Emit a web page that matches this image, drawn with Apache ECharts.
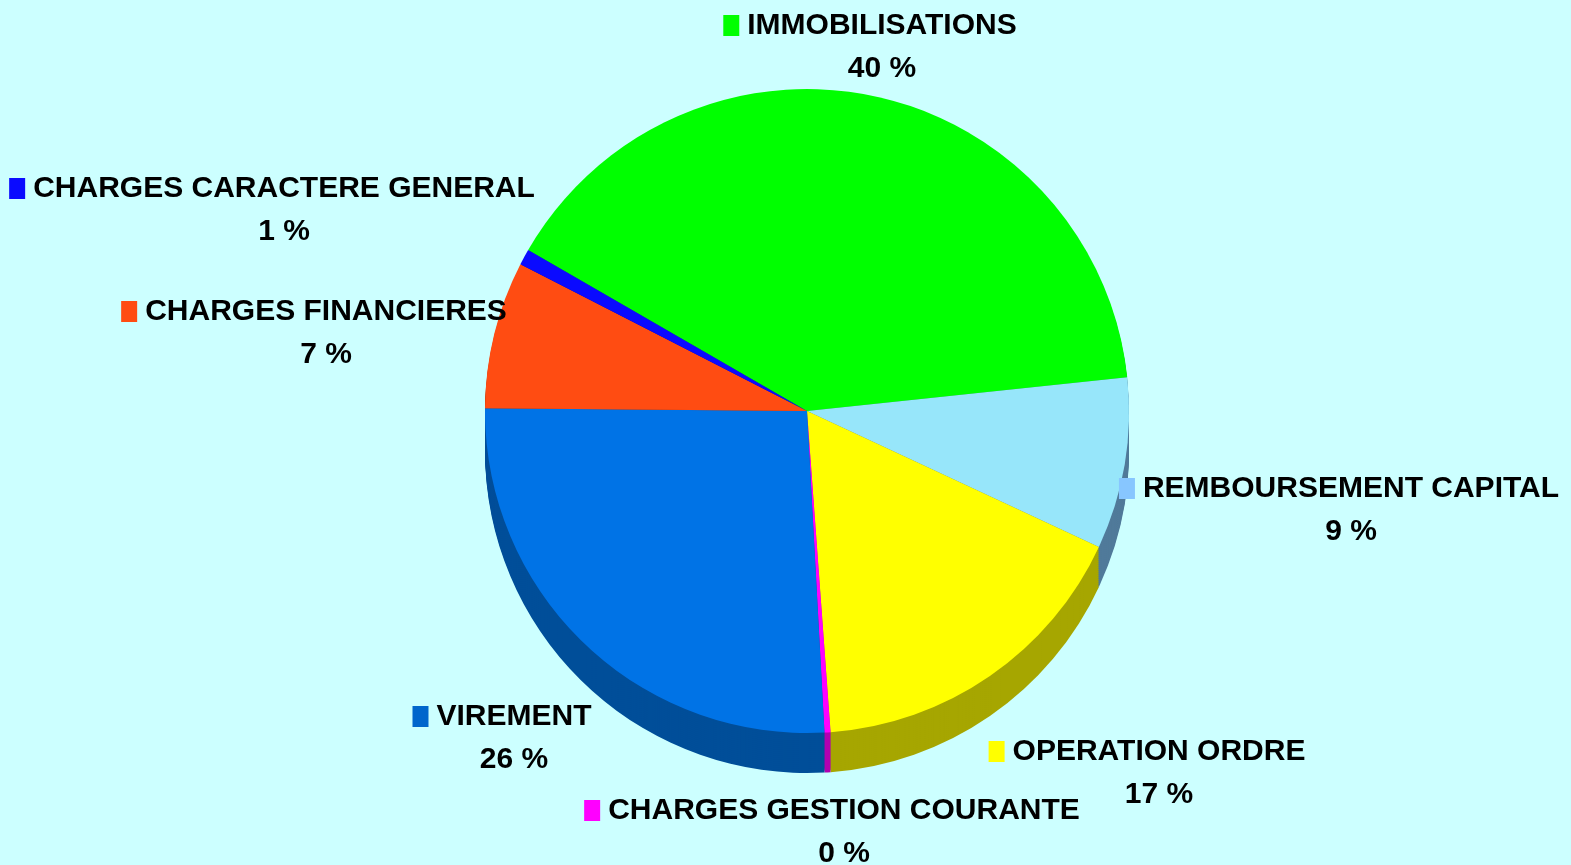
<!DOCTYPE html>
<html>
<head>
<meta charset="utf-8">
<script src="https://cdn.jsdelivr.net/npm/echarts@6/dist/echarts.min.js"></script>
<style>
  html, body { margin: 0; padding: 0; background: #ccffff; }
  #chart { width: 1571px; height: 865px; }
</style>
</head>
<body>
<div id="chart"></div>
<script>
// categories, clockwise from the upper left
const categories = ['IMMOBILISATIONS', 'REMBOURSEMENT CAPITAL', 'OPERATION ORDRE', 'CHARGES GESTION COURANTE', 'VIREMENT', 'CHARGES FINANCIERES', 'CHARGES CARACTERE GENERAL']
const values = [40, 8.6, 16.9, 0.3, 26, 7.4, 0.8]

// colours: top face, side (depth), legend key
const topColors = ['#00ff00', '#97e6fa', '#ffff00', '#ff00ff', '#0073e6', '#ff4c12', '#0a0aff']
const sideColors = ['#00a600', '#507a9a', '#a6a600', '#b000b0', '#004e99', '#a63000', '#0000a6']
const keyColors = ['#00ff00', '#87c6ff', '#ffff00', '#ff00ff', '#0066cc', '#ff4c12', '#0a0aff']

// where each label block sits (centre x, top y)
const labelAnchors = {
  'IMMOBILISATIONS': [870, 4],
  'REMBOURSEMENT CAPITAL': [1339, 467],
  'OPERATION ORDRE': [1147, 730],
  'CHARGES GESTION COURANTE': [832, 789],
  'VIREMENT': [502, 695],
  'CHARGES FINANCIERES': [314, 290],
  'CHARGES CARACTERE GENERAL': [272, 167]
}

const font = "'Liberation Sans', Arial, sans-serif"
const cx = 807
const cy = 411
const radius = 322
const depth = 40

const rich = {
  g: { width: 8 },
  pad: { width: 24 },
  n: { fontFamily: font, fontSize: 30, fontWeight: 'bold', color: '#000', lineHeight: 43 },
  p: { fontFamily: font, fontSize: 30, fontWeight: 'bold', color: '#000', lineHeight: 43 }
}
keyColors.forEach((c, i) => {
  rich['m' + i] = { width: 16, height: 21, backgroundColor: c }
})

const series = []

// side of the disc: darker copies stacked downwards
for (let k = depth; k > 0; k -= 2) {
  series.push({
    type: 'pie',
    silent: true,
    animation: false,
    radius: radius,
    center: [cx, cy + k],
    startAngle: 150,
    clockwise: true,
    label: { show: false },
    labelLine: { show: false },
    itemStyle: { borderWidth: 0 },
    data: categories.map((name, i) => ({ name, value: values[i], itemStyle: { color: sideColors[i] } }))
  })
}

// top face with labels
series.push({
  type: 'pie',
  animation: false,
  radius: radius,
  center: [cx, cy],
  startAngle: 150,
  clockwise: true,
  percentPrecision: 0,
  itemStyle: { borderWidth: 0 },
  labelLine: { show: false },
  label: {
    show: true,
    position: 'outside',
    align: 'center',
    overflow: 'none',
    formatter: (p) => '{m' + p.dataIndex + '|}{g|}{n|' + p.name + '}\n{pad|}{p|' + p.percent + ' %}',
    rich: rich
  },
  labelLayout: (params) => {
    const a = labelAnchors[categories[params.dataIndex]]
    return { x: a[0], y: a[1], align: 'center', verticalAlign: 'top' }
  },
  data: categories.map((name, i) => ({ name, value: values[i], itemStyle: { color: topColors[i] } }))
})

const chart = echarts.init(document.getElementById('chart'))
chart.setOption({
  backgroundColor: '#ccffff',
  series: series
})
</script>
</body>
</html>
